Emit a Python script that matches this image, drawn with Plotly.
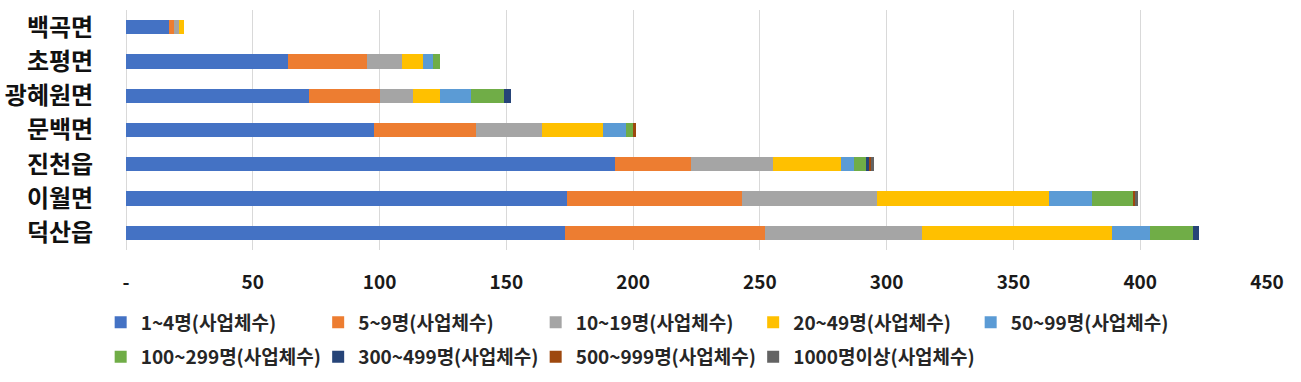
import plotly.graph_objects as go

regions = ["백곡면", "초평면", "광혜원면", "문백면", "진천읍", "이월면", "덕산읍"]

series_names = ["1~4명(사업체수)", "5~9명(사업체수)", "10~19명(사업체수)", "20~49명(사업체수)",
                "50~99명(사업체수)", "100~299명(사업체수)", "300~499명(사업체수)",
                "500~999명(사업체수)", "1000명이상(사업체수)"]

s_1_4 = [17, 64, 72, 98, 193, 174, 173]
s_5_9 = [2, 31, 28, 40, 30, 69, 79]
s_10_19 = [2, 14, 13, 26, 32, 53, 62]
s_20_49 = [2, 8, 11, 24, 27, 68, 75]
s_50_99 = [0, 4, 12, 9, 5, 17, 15]
s_100_299 = [0, 3, 13, 3, 5, 16, 17]
s_300_499 = [0, 0, 3, 0, 1, 0, 2]
s_500_999 = [0, 0, 0, 1, 1, 1, 0]
s_1000 = [0, 0, 0, 0, 1, 1, 0]

tick_vals = [0, 50, 100, 150, 200, 250, 300, 350, 400, 450]
tick_text = ["-", "50", "100", "150", "200", "250", "300", "350", "400", "450"]

colors = ["#4472C4", "#ED7D31", "#A5A5A5", "#FFC000", "#5B9BD5",
          "#70AD47", "#264478", "#9E480E", "#636363"]

all_series = [s_1_4, s_5_9, s_10_19, s_20_49, s_50_99, s_100_299, s_300_499, s_500_999, s_1000]

fig = go.Figure()
for i, (name, vals, col) in enumerate(zip(series_names, all_series, colors)):
    fig.add_trace(go.Bar(
        y=regions, x=vals, name=name, orientation="h",
        marker=dict(color=col, line=dict(width=0)),
        legend="legend" if i < 5 else "legend2",
    ))

# empty spacer entry so the last legend label of row 2 is not clipped
fig.add_trace(go.Scatter(
    x=[None], y=[None], mode="markers", name=" ",
    marker=dict(color="rgba(0,0,0,0)", size=1, line=dict(width=0, color="rgba(0,0,0,0)")),
    legend="legend2", hoverinfo="skip",
))

font_family = "Noto Sans CJK KR"

legend_common = dict(
    orientation="h",
    x=-0.0222, xanchor="left",
    yanchor="top",
    font=dict(size=19, color="#262626", family=font_family, weight="bold"),
    entrywidth=172.5, entrywidthmode="pixels",
    traceorder="normal",
    itemwidth=30,
    bgcolor="rgba(0,0,0,0)",
)

fig.update_layout(
    width=1301, height=382,
    barmode="stack",
    bargap=0.58,
    plot_bgcolor="white",
    paper_bgcolor="white",
    margin=dict(l=126, r=34, t=10, b=132, autoexpand=False),
    font=dict(family=font_family, color="#404040"),
    xaxis=dict(
        range=[0, 450],
        tickvals=tick_vals, ticktext=tick_text,
        showgrid=True, gridcolor="#D9D9D9", gridwidth=1,
        zeroline=True, zerolinecolor="#D9D9D9", zerolinewidth=1,
        showline=False, automargin=False,
        ticks="outside", ticklen=15, tickcolor="rgba(0,0,0,0)",
        tickfont=dict(size=19, color="#1a1a1a", family=font_family, weight="bold"),
    ),
    yaxis=dict(
        categoryorder="array", categoryarray=regions,
        autorange="reversed",
        showgrid=False, zeroline=False, showline=False, automargin=False,
        ticks="outside", ticklen=27, tickcolor="rgba(0,0,0,0)",
        tickfont=dict(size=24, color="#111111", family=font_family, weight="bold"),
    ),
    legend=dict(legend_common, y=-0.222),
    legend2=dict(legend_common, y=-0.366),
)

fig.write_html("out.html", config={"displayModeBar": False},
               post_script="document.body.style.margin='0';")
